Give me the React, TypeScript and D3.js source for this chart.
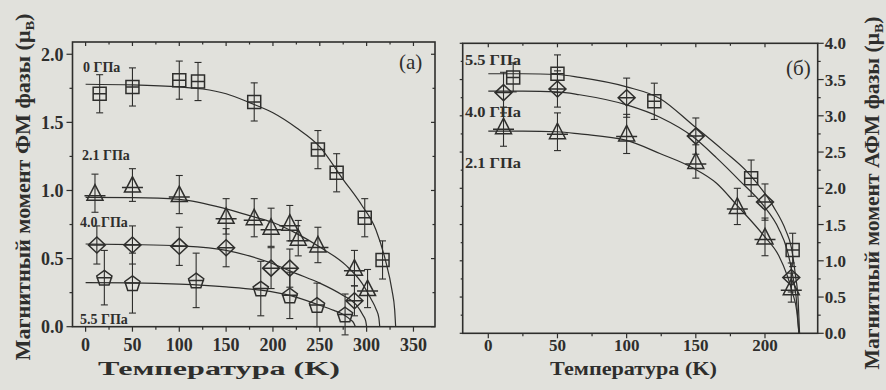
import React, { useEffect, useRef } from 'react';
import * as d3 from 'd3';

// ---- panel (a): FM phase moment ----
const aTicksX = [0, 50, 100, 150, 200, 250, 300, 350];
const aTicksY = [0, 0.5, 1.0, 1.5, 2.0];

const a00T = [15, 50, 100, 120, 180, 248, 268, 298, 317];
const a00M = [1.71, 1.76, 1.81, 1.8, 1.65, 1.3, 1.13, 0.8, 0.49];
const a00E = [0.14, 0.14, 0.14, 0.14, 0.14, 0.14, 0.14, 0.14, 0.14];
const a00FitT = [0, 50, 100, 125, 150, 175, 200, 225, 250, 275, 295, 310, 320, 327, 330, 331];
const a00FitM = [1.78, 1.775, 1.76, 1.745, 1.71, 1.645, 1.57, 1.46, 1.32, 1.08, 0.89, 0.71, 0.49, 0.27, 0.12, 0];

const a21T = [10, 50, 100, 150, 180, 198, 218, 227, 248, 287, 301];
const a21M = [0.98, 1.04, 0.97, 0.81, 0.8, 0.73, 0.76, 0.65, 0.6, 0.43, 0.28];
const a21E = [0.14, 0.12, 0.14, 0.13, 0.14, 0.14, 0.13, 0.13, 0.13, 0.13, 0.14];
const a21FitT = [0, 50, 100, 150, 175, 200, 225, 250, 278, 295, 305, 310, 313, 314];
const a21FitM = [0.95, 0.948, 0.935, 0.865, 0.815, 0.765, 0.685, 0.585, 0.45, 0.32, 0.2, 0.13, 0.067, 0];

const a40T = [12, 50, 100, 150, 198, 218, 287];
const a40M = [0.6, 0.6, 0.59, 0.58, 0.43, 0.43, 0.19];
const a40E = [0.14, 0.14, 0.14, 0.14, 0.15, 0.14, 0.11];
const a40FitT = [0, 50, 100, 150, 195, 225, 250, 274, 289, 296, 299, 300];
const a40FitM = [0.607, 0.603, 0.593, 0.56, 0.475, 0.39, 0.32, 0.233, 0.16, 0.086, 0.043, 0];

const a55T = [20, 50, 118, 187, 218, 247, 277];
const a55M = [0.36, 0.32, 0.34, 0.28, 0.23, 0.16, 0.09];
const a55E = [0.2, 0.22, 0.2, 0.2, 0.17, 0.16, 0.15];
const a55FitT = [0, 50, 100, 150, 187, 218, 247, 265, 276, 283, 286, 288];
const a55FitM = [0.323, 0.321, 0.312, 0.292, 0.268, 0.23, 0.165, 0.12, 0.086, 0.05, 0.03, 0];

// ---- panel (б): AFM phase moment ----
const bTicksX = [0, 50, 100, 150, 200];
const bTicksY = [0, 0.5, 1.0, 1.5, 2.0, 2.5, 3.0, 3.5, 4.0];

const b55T = [18, 50, 120, 190, 220];
const b55M = [3.53, 3.58, 3.2, 2.14, 1.15];
const b55E = [0.2, 0.26, 0.25, 0.25, 0.23];
const b55FitT = [0, 25, 50, 66, 100, 124, 148, 170, 187, 206, 215, 219, 222, 224, 225];
const b55FitM = [3.58, 3.58, 3.57, 3.53, 3.4, 3.24, 2.87, 2.52, 2.23, 1.75, 1.42, 1.19, 0.8, 0.45, 0];

const b40T = [11, 50, 100, 150, 200, 219];
const b40M = [3.32, 3.37, 3.25, 2.72, 1.81, 0.77];
const b40E = [0.28, 0.25, 0.27, 0.25, 0.25, 0.2];
const b40FitT = [0, 25, 50, 66, 100, 124, 148, 165, 182, 199, 210, 216, 220, 222.5, 224.5];
const b40FitM = [3.34, 3.34, 3.33, 3.29, 3.15, 2.98, 2.71, 2.42, 2.1, 1.76, 1.44, 1.15, 0.8, 0.5, 0];

const b21T = [11, 50, 100, 150, 180, 200, 219];
const b21M = [2.85, 2.78, 2.75, 2.37, 1.75, 1.33, 0.63];
const b21E = [0.27, 0.26, 0.27, 0.23, 0.25, 0.26, 0.2];
const b21FitT = [0, 25, 50, 66, 100, 124, 148, 165, 180, 199, 210, 216, 220, 223, 224.5];
const b21FitM = [2.79, 2.79, 2.78, 2.75, 2.66, 2.48, 2.28, 2.07, 1.76, 1.35, 1.07, 0.8, 0.55, 0.3, 0];

const ink = '#2e2e2c';
const paper = '#e1e1dc';
const serif = '"Liberation Serif", "Times New Roman", serif';

type Shape = 'square' | 'triangle' | 'diamond' | 'pentagon';

interface Series {
  t: number[];
  m: number[];
  e: number[];
  fitT: number[];
  fitM: number[];
  shape: Shape;
}

// outline + the horizontal bar drawn through each marker
const markerPath = (shape: Shape): string => {
  if (shape === 'square') return 'M-6.5,-6.5H6.5V6.5H-6.5Z M-6.5,0H6.5';
  if (shape === 'triangle') return 'M0,-8.5L8,7H-8Z M-10.5,2.5H10.5';
  if (shape === 'diamond') return 'M0,-8L8.5,0L0,8L-8.5,0Z M-8.5,0H8.5';
  const r = 8;
  const pts = d3.range(5).map((k) => {
    const a = ((-90 + 72 * k) * Math.PI) / 180;
    return [r * Math.cos(a), r * Math.sin(a) + 0.8];
  });
  return 'M' + pts.map((p) => p.join(',')).join('L') + 'Z M-8,0H8';
};

interface Panel {
  left: number;
  right: number;
  top: number;
  bottom: number;
  xDomain: [number, number];
  yDomain: [number, number];
  xTicks: number[];
  yTicks: number[];
  yLabelsRight: boolean;
  series: Series[];
  tickFont: number;
}

const App: React.FC = () => {
  const svgRef = useRef<SVGSVGElement | null>(null);

  useEffect(() => {
    if (!svgRef.current) return;
    const svg = d3.select(svgRef.current);
    svg.selectAll('*').remove();

    svg.append('rect').attr('width', 886).attr('height', 390).attr('fill', paper);

    const drawPanel = (p: Panel) => {
      const x = d3.scaleLinear().domain(p.xDomain).range([p.left, p.right]);
      const y = d3.scaleLinear().domain(p.yDomain).range([p.bottom, p.top]);
      const g = svg.append('g');

      const line = (x1: number, y1: number, x2: number, y2: number, w = 1.2) =>
        g.append('line')
          .attr('x1', x1).attr('y1', y1).attr('x2', x2).attr('y2', y2)
          .attr('stroke', ink).attr('stroke-width', w);

      // x ticks (major every 50, minor every 25)
      const xStep = p.xTicks[1] - p.xTicks[0];
      d3.range(p.xTicks[0], p.xTicks[p.xTicks.length - 1] + 1, xStep / 2).forEach((v) => {
        const px = x(v);
        if (px < p.left || px > p.right) return;
        const major = p.xTicks.includes(v);
        line(px, p.bottom, px, p.bottom + (major ? 5 : 3));
        line(px, p.top, px, p.top + (major ? 4 : 2.5));
      });
      p.xTicks.forEach((v) => {
        g.append('text')
          .attr('x', x(v)).attr('y', 351)
          .attr('text-anchor', 'middle')
          .attr('font-family', serif).attr('font-weight', 'bold')
          .attr('font-size', p.tickFont).attr('fill', ink)
          .text(String(v));
      });

      // y ticks (major every 0.5, minor every 0.25)
      const yMax = p.yTicks[p.yTicks.length - 1];
      d3.range(0, yMax + 0.01, 0.25).forEach((v) => {
        const py = y(v);
        const major = p.yTicks.some((t) => Math.abs(t - v) < 1e-6);
        if (p.yLabelsRight) {
          line(p.right, py, p.right + (major ? 6 : 3), py);
          line(p.left, py, p.left - (major ? 3 : 2), py);
        } else {
          line(p.left, py, p.left - (major ? 6 : 3), py);
          line(p.right, py, p.right - (major ? 4 : 2.5), py);
        }
      });
      p.yTicks.forEach((v) => {
        g.append('text')
          .attr('x', p.yLabelsRight ? p.right + 7 : p.left - 9)
          .attr('y', y(v)).attr('dy', '0.35em')
          .attr('text-anchor', p.yLabelsRight ? 'start' : 'end')
          .attr('font-family', serif).attr('font-weight', 'bold')
          .attr('font-size', p.tickFont).attr('fill', ink)
          .text(v.toFixed(1));
      });

      // frame
      g.append('rect')
        .attr('x', p.left).attr('y', p.top)
        .attr('width', p.right - p.left).attr('height', p.bottom - p.top)
        .attr('fill', 'none').attr('stroke', ink).attr('stroke-width', 1.6);

      const fit = d3.line<[number, number]>()
        .x((d) => x(d[0]))
        .y((d) => y(d[1]))
        .curve(d3.curveMonotoneX);

      p.series.forEach((s) => {
        g.append('path')
          .attr('d', fit(s.fitT.map((t, i) => [t, s.fitM[i]] as [number, number])) as string)
          .attr('fill', 'none').attr('stroke', ink).attr('stroke-width', 1.2);

        s.t.forEach((t, i) => {
          const px = x(t);
          const lo = y(s.m[i] - s.e[i]);
          const hi = y(s.m[i] + s.e[i]);
          line(px, lo, px, hi, 1.1);
          line(px - 3.5, lo, px + 3.5, lo, 1.1);
          line(px - 3.5, hi, px + 3.5, hi, 1.1);
          g.append('path')
            .attr('d', markerPath(s.shape))
            .attr('transform', `translate(${px},${y(s.m[i])})`)
            .attr('fill', 'none').attr('stroke', ink).attr('stroke-width', 1.5);
        });
      });
    };

    drawPanel({
      left: 72.5, right: 435, top: 42, bottom: 326.7,
      xDomain: [-14, 373], yDomain: [0, 2.09],
      xTicks: aTicksX, yTicks: aTicksY, yLabelsRight: false, tickFont: 18,
      series: [
        { t: a00T, m: a00M, e: a00E, fitT: a00FitT, fitM: a00FitM, shape: 'square' },
        { t: a21T, m: a21M, e: a21E, fitT: a21FitT, fitM: a21FitM, shape: 'triangle' },
        { t: a40T, m: a40M, e: a40E, fitT: a40FitT, fitM: a40FitM, shape: 'diamond' },
        { t: a55T, m: a55M, e: a55E, fitT: a55FitT, fitM: a55FitM, shape: 'pentagon' },
      ],
    });

    drawPanel({
      left: 462.7, right: 817.7, top: 43.3, bottom: 333.3,
      xDomain: [-18.5, 238.1], yDomain: [0, 4],
      xTicks: bTicksX, yTicks: bTicksY, yLabelsRight: true, tickFont: 17,
      series: [
        { t: b55T, m: b55M, e: b55E, fitT: b55FitT, fitM: b55FitM, shape: 'square' },
        { t: b40T, m: b40M, e: b40E, fitT: b40FitT, fitM: b40FitM, shape: 'diamond' },
        { t: b21T, m: b21M, e: b21E, fitT: b21FitT, fitM: b21FitM, shape: 'triangle' },
      ],
    });

    const label = (txt: string, px: number, py: number, size: number, len?: number, weight = 'bold') => {
      const t = svg.append('text')
        .attr('x', px).attr('y', py)
        .attr('font-family', serif).attr('font-weight', weight)
        .attr('font-size', size).attr('fill', ink)
        .text(txt);
      if (len) t.attr('textLength', len).attr('lengthAdjust', 'spacingAndGlyphs');
      return t;
    };

    // pressure labels
    label('0 ГПа', 83, 72, 14);
    label('2.1 ГПа', 82, 160, 14);
    label('4.0 ГПа', 80, 227, 14);
    label('5.5 ГПа', 80, 324, 14);
    label('5.5 ГПа', 465, 65, 14, 56);
    label('4.0 ГПа', 465, 117, 14, 56);
    label('2.1 ГПа', 465, 168, 14, 56);

    label('(a)', 399, 69, 21, undefined, 'normal');
    label('(б)', 786, 75, 21, undefined, 'normal');

    // axis titles
    label('Температура (K)', 98, 375, 19, 242);
    label('Температура (K)', 550, 375, 19, 167);

    const yTitle = (cx: number, cy: number, len: number, sub: string, body: string) => {
      const t = svg.append('text')
        .attr('transform', `translate(${cx},${cy}) rotate(-90)`)
        .attr('text-anchor', 'middle')
        .attr('font-family', serif).attr('font-weight', 'bold')
        .attr('font-size', 20).attr('fill', ink)
        .attr('textLength', len).attr('lengthAdjust', 'spacingAndGlyphs');
      t.append('tspan').text(body + ' (μ');
      t.append('tspan').attr('font-size', 13).attr('dy', 4).text(sub);
      t.append('tspan').attr('dy', -4).text(')');
    };
    yTitle(30, 187, 347, 'B', 'Магнитный момент ФМ фазы');
    yTitle(879, 193, 353, 'B', 'Магнитный момент АФМ фазы');
  }, []);

  return (
    <svg
      ref={svgRef}
      width={886}
      height={390}
      style={{ position: 'absolute', left: 0, top: 0, display: 'block' }}
    />
  );
};

export default App;
